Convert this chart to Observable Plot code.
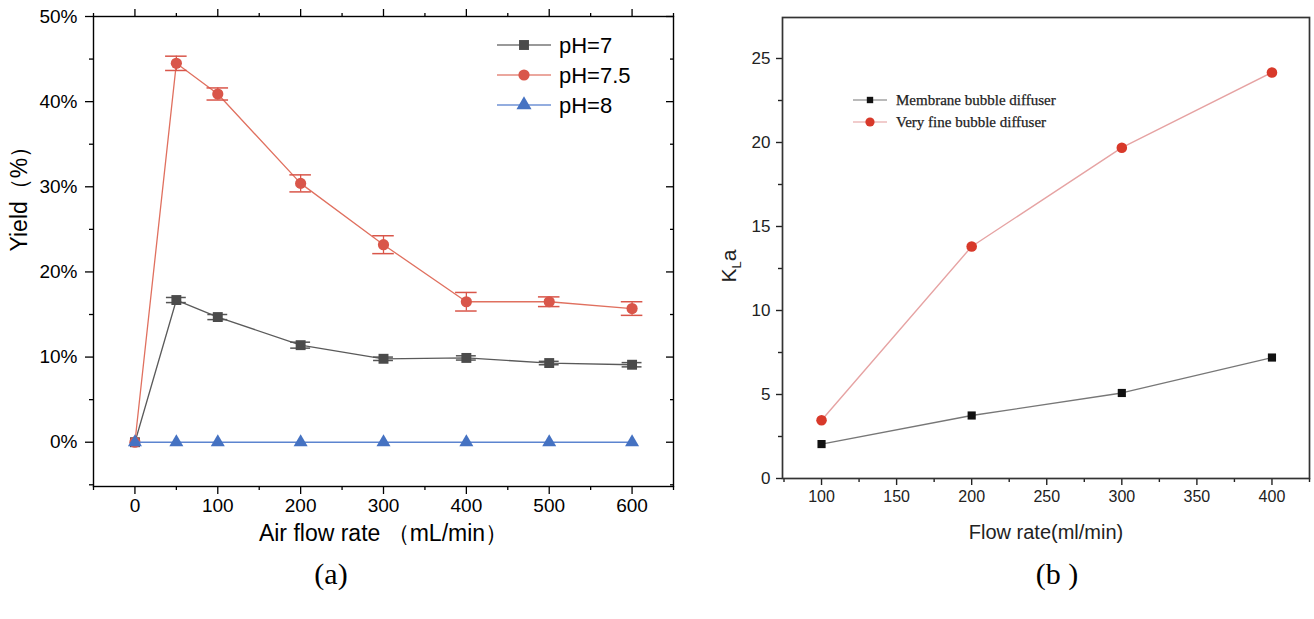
<!DOCTYPE html>
<html>
<head>
<meta charset="utf-8">
<script src="https://cdn.jsdelivr.net/npm/d3@7"></script>
<script src="https://cdn.jsdelivr.net/npm/@observablehq/plot@0.6"></script>
<style>
  html, body { margin: 0; padding: 0; background: #fff; }
  #wrap { position: relative; width: 1314px; height: 619px; overflow: hidden; background: #fff; }
  #pa { position: absolute; left: 0; top: 0; }
  #pb { position: absolute; left: 700px; top: 0; }
  .cap { position: absolute; width: 120px; text-align: center; font-family: "Liberation Serif", "Times New Roman", serif; font-size: 30px; line-height: 36px; color: #000; }
</style>
</head>
<body>
<div id="wrap">
  <div id="pa"></div>
  <div id="pb"></div>
  <div class="cap" style="left:271px; top:556px;">(a)</div>
  <div class="cap" style="left:997px; top:556px;">(b )</div>
</div>
<script>
// ---------- Panel (a) data ----------
const flowA = [0, 50, 100, 200, 300, 400, 500, 600];
const yieldPH7 = [0, 16.7, 14.7, 11.4, 9.8, 9.9, 9.3, 9.1];
const errPH7 = [0, 0.3, 0.3, 0.35, 0.2, 0.25, 0.2, 0.25];
const yieldPH75 = [0, 44.5, 40.9, 30.4, 23.2, 16.5, 16.5, 15.7];
const errPH75 = [0, 0.84, 0.71, 1.0, 1.05, 1.09, 0.57, 0.8];
const yieldPH8 = [0, 0, 0, 0, 0, 0, 0, 0];
const seriesNamesA = ["pH=7", "pH=7.5", "pH=8"];
const xMajorA = [0, 100, 200, 300, 400, 500, 600];
const xMinorA = [-50, 50, 150, 250, 350, 450, 550, 650];
const yMajorA = [0, 10, 20, 30, 40, 50];
const yMinorA = [-5, 5, 15, 25, 35, 45];
const xLabelA = "Air flow rate （mL/min）";
const yLabelA = "Yield（%）";

// ---------- Panel (b) data ----------
const flowB = [100, 200, 300, 400];
const kMembrane = [2.05, 3.75, 5.09, 7.2];
const kVeryFine = [3.47, 13.81, 19.69, 24.17];
const seriesNamesB = ["Membrane bubble diffuser", "Very fine bubble diffuser"];
const xMajorB = [100, 150, 200, 250, 300, 350, 400];
const xMinorB = [75, 125, 175, 225, 275, 325, 375, 425];
const yMajorB = [0, 5, 10, 15, 20, 25];
const yMinorB = [2.5, 7.5, 12.5, 17.5, 22.5];
const xLabelB = "Flow rate(ml/min)";

// ---------- styles ----------
const cA = {gray: "#4b4b4b", grayLine: "#5a5a5a", red: "#d9564a", redLine: "#e0705f", blue: "#4572c2", blueLine: "#5c84cf"};
const cB = {black: "#111", blackLine: "#777", red: "#d8392a", redLine: "#e6a3a3"};
const capA = 12; // half width of error-bar caps in x units

const tA7 = flowA.map((x, i) => ({x, y: yieldPH7[i], e: errPH7[i]}));
const tA75 = flowA.map((x, i) => ({x, y: yieldPH75[i], e: errPH75[i]}));
const tA8 = flowA.map((x, i) => ({x, y: yieldPH8[i]}));
const tBm = flowB.map((x, i) => ({x, y: kMembrane[i]}));
const tBv = flowB.map((x, i) => ({x, y: kVeryFine[i]}));

const blank = () => "";
const fontA = "'Liberation Sans', Arial, sans-serif";

function errMarks(data, color, half) {
  return [
    Plot.ruleX(data.filter(d => d.e > 0), {x: "x", y1: d => d.y - d.e, y2: d => d.y + d.e, stroke: color, strokeWidth: 1.3}),
    Plot.ruleY(data.filter(d => d.e > 0), {y: d => d.y + d.e, x1: d => d.x - half, x2: d => d.x + half, stroke: color, strokeWidth: 1.5}),
    Plot.ruleY(data.filter(d => d.e > 0), {y: d => d.y - d.e, x1: d => d.x - half, x2: d => d.x + half, stroke: color, strokeWidth: 1.5})
  ];
}

const plotA = Plot.plot({
  width: 690, height: 560,
  marginLeft: 93, marginRight: 17, marginTop: 16, marginBottom: 74,
  x: {domain: [-50, 650]},
  y: {domain: [-5.2, 50]},
  style: {fontFamily: fontA, fontSize: "19px", color: "#000", background: "transparent", overflow: "visible"},
  marks: [
    Plot.axisX({ticks: xMajorA, tickSize: 8, tickPadding: 4, tickFormat: d => String(d), label: null, fontSize: 19, strokeWidth: 1.3}),
    Plot.axisX({ticks: xMinorA, tickSize: 4, tickFormat: blank, label: null, strokeWidth: 1.3}),
    Plot.axisX({anchor: "top", ticks: xMajorA, tickSize: 8, tickFormat: blank, label: null, strokeWidth: 1.3}),
    Plot.axisX({anchor: "top", ticks: xMinorA, tickSize: 4, tickFormat: blank, label: null, strokeWidth: 1.3}),
    Plot.axisY({ticks: yMajorA, tickSize: 8, tickPadding: 8, tickFormat: d => d + "%", label: null, fontSize: 19, strokeWidth: 1.3}),
    Plot.axisY({ticks: yMinorA, tickSize: 4, tickFormat: blank, label: null, strokeWidth: 1.3}),
    Plot.axisY({anchor: "right", ticks: yMajorA, tickSize: -8, tickFormat: blank, label: null, strokeWidth: 1.3}),
    Plot.axisY({anchor: "right", ticks: yMinorA, tickSize: -4, tickFormat: blank, label: null, strokeWidth: 1.3}),
    Plot.frame({stroke: "#000", strokeWidth: 1.4}),
    Plot.text([xLabelA], {frameAnchor: "bottom", dy: 54, text: d => d, fontSize: 23, fill: "#000"}),
    Plot.text([yLabelA], {frameAnchor: "left", dx: -74, rotate: -90, text: d => d, fontSize: 23, fill: "#000"}),
    // pH=7
    Plot.line(tA7, {x: "x", y: "y", stroke: cA.grayLine, strokeWidth: 1.3}),
    ...errMarks(tA7, "#555", capA),
    Plot.dot(tA7, {x: "x", y: "y", symbol: "square", r: 5.6, fill: cA.gray, stroke: "none"}),
    // pH=7.5
    Plot.line(tA75, {x: "x", y: "y", stroke: cA.redLine, strokeWidth: 1.3}),
    ...errMarks(tA75, cA.red, capA + 1),
    Plot.dot(tA75, {x: "x", y: "y", symbol: "circle", r: 5.6, fill: cA.red, stroke: "none"}),
    // pH=8
    Plot.line(tA8, {x: "x", y: "y", stroke: cA.blueLine, strokeWidth: 1.4}),
    Plot.dot(tA8, {x: "x", y: "y", symbol: "triangle", r: 5.2, fill: cA.blue, stroke: "none"})
  ]
});
document.getElementById("pa").appendChild(plotA);

// legend (a)
{
  const svg = d3.select(plotA);
  const items = [
    {name: seriesNamesA[0], line: "#777", fill: cA.gray, sym: d3.symbolSquare, r: 5.6},
    {name: seriesNamesA[1], line: "#e58a7e", fill: cA.red, sym: d3.symbolCircle, r: 5.6},
    {name: seriesNamesA[2], line: "#6f92d4", fill: cA.blue, sym: d3.symbolTriangle, r: 5.6}
  ];
  const g = svg.append("g").attr("font-family", fontA).attr("text-anchor", "start");
  items.forEach((it, i) => {
    const y = 45 + i * 30;
    g.append("line").attr("x1", 497).attr("x2", 551).attr("y1", y).attr("y2", y).attr("stroke", it.line).attr("stroke-width", 1.3);
    g.append("path").attr("d", d3.symbol(it.sym, Math.PI * it.r * it.r)()).attr("transform", `translate(524,${y})`).attr("fill", it.fill);
    g.append("text").attr("x", 559).attr("y", y).attr("dy", "0.36em").attr("text-anchor", "start").attr("font-size", 22).attr("fill", "#000").text(it.name);
  });
}

const fontB = "'Liberation Sans Narrow', 'Liberation Sans', Arial, sans-serif";
const plotB = Plot.plot({
  width: 614, height: 560,
  marginLeft: 82, marginRight: 5, marginTop: 17, marginBottom: 82,
  x: {domain: [74, 425]},
  y: {domain: [0, 27.44]},
  style: {fontFamily: fontB, fontSize: "17px", color: "#222", background: "transparent", overflow: "visible"},
  marks: [
    Plot.axisX({ticks: xMajorB, tickSize: 7, tickPadding: 5, tickFormat: d => String(d), label: null, fontSize: 16, strokeWidth: 1.4}),
    Plot.axisX({ticks: xMinorB, tickSize: 4, tickFormat: blank, label: null, strokeWidth: 1.4}),
    Plot.axisY({ticks: yMajorB, tickSize: 6, tickPadding: 6, tickFormat: d => String(d), label: null, fontSize: 17, strokeWidth: 1.4}),
    Plot.axisY({ticks: yMinorB, tickSize: 4, tickFormat: blank, label: null, strokeWidth: 1.4}),
    Plot.frame({stroke: "#333", strokeWidth: 1.7}),
    Plot.text([xLabelB], {frameAnchor: "bottom", dy: 60, text: d => d, fontSize: 20, fill: "#222"}),
    Plot.line(tBm, {x: "x", y: "y", stroke: cB.blackLine, strokeWidth: 1.3}),
    Plot.dot(tBm, {x: "x", y: "y", symbol: "square", r: 4.6, fill: cB.black, stroke: "none"}),
    Plot.line(tBv, {x: "x", y: "y", stroke: cB.redLine, strokeWidth: 1.4}),
    Plot.dot(tBv, {x: "x", y: "y", symbol: "circle", r: 5.3, fill: cB.red, stroke: "none"})
  ]
});
document.getElementById("pb").appendChild(plotB);

// y label (b) with subscript, legend (b)
{
  const svg = d3.select(plotB);
  const t = svg.append("text")
    .attr("transform", "translate(36,266) rotate(-90)")
    .attr("text-anchor", "middle")
    .attr("font-family", "'Liberation Sans', Arial, sans-serif")
    .attr("font-size", 21)
    .attr("fill", "#222");
  t.append("tspan").text("K");
  t.append("tspan").attr("font-size", 13).attr("dy", 5).text("L");
  t.append("tspan").attr("dy", -5).text("a");

  const items = [
    {name: seriesNamesB[0], line: "#777", fill: cB.black, sym: d3.symbolSquare, r: 3.6},
    {name: seriesNamesB[1], line: "#e39a9a", fill: cB.red, sym: d3.symbolCircle, r: 4.6}
  ];
  const g = svg.append("g").attr("font-family", "'Liberation Serif', 'Times New Roman', serif").attr("text-anchor", "start");
  items.forEach((it, i) => {
    const y = 100 + i * 22;
    g.append("line").attr("x1", 153).attr("x2", 187).attr("y1", y).attr("y2", y).attr("stroke", it.line).attr("stroke-width", 1.2);
    g.append("path").attr("d", d3.symbol(it.sym, Math.PI * it.r * it.r)()).attr("transform", `translate(170,${y})`).attr("fill", it.fill);
    g.append("text").attr("x", 196).attr("y", y).attr("dy", "0.35em").attr("text-anchor", "start").attr("font-size", 15).attr("fill", "#222").attr("stroke", "#222").attr("stroke-width", 0.25).text(it.name);
  });
}
</script>
</body>
</html>
